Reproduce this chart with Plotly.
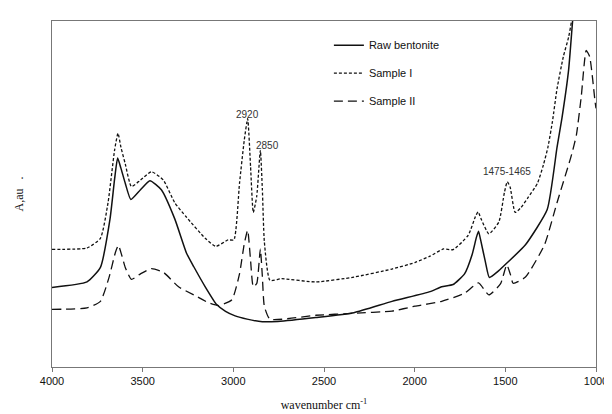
import plotly.graph_objects as go

# Raw bentonite
raw_wn = [4000, 3807, 3733, 3680, 3655, 3638, 3620, 3596, 3565, 3512, 3460, 3397, 3323, 3258, 3218, 3155,
          3092, 3043, 2990, 2924, 2840, 2755, 2545, 2335, 2125, 1915, 1851, 1788, 1725, 1683, 1660, 1648, 1635,
          1610, 1588, 1536, 1494, 1389, 1269, 1215, 1188, 1151, 1129, 1115]
raw_abs = [24.6, 26.3, 30.8, 45.8, 58.0, 64.6, 61.5, 56.8, 51.8, 54.8, 57.6, 54.8, 45.8, 35.2, 31.0, 24.8,
           19.3, 17.2, 15.8, 14.8, 14.0, 14.1, 15.3, 16.8, 20.3, 23.3, 24.8, 25.5, 28.8, 34.8, 40.0, 42.0, 39.0,
           32.5, 27.7, 29.8, 32.0, 37.8, 48.7, 67.9, 76.9, 91.9, 107.0, 115.0]

# Sample I
s1_wn = [4000, 3807, 3733, 3691, 3655, 3636, 3620, 3596, 3562, 3512, 3452, 3386, 3323, 3258, 3155, 3097,
         3029, 2997, 2966, 2940, 2921, 2905, 2890, 2871, 2851, 2840, 2829, 2798, 2734, 2545, 2335, 2125,
         1999, 1915, 1841, 1788, 1704, 1665, 1650, 1635, 1591, 1536, 1505, 1489, 1473, 1446, 1414, 1376,
         1323, 1290, 1265, 1240, 1215, 1180, 1151, 1135, 1120]
s1_abs = [36.4, 36.8, 39.8, 50.8, 67.0, 72.3, 68.0, 62.8, 55.8, 57.8, 60.4, 57.8, 50.8, 46.3, 39.8, 37.3,
          39.3, 39.3, 56.8, 70.0, 76.8, 62.0, 47.8, 52.8, 67.0, 55.0, 38.8, 26.8, 27.3, 26.3, 27.8, 30.3,
          32.3, 34.3, 36.5, 36.3, 40.8, 46.5, 48.0, 46.0, 41.2, 44.8, 54.0, 57.3, 55.5, 47.8, 49.3, 52.3,
          56.8, 62.5, 68.0, 76.0, 86.0, 96.0, 102.0, 107.0, 115.0]

# Sample II
s2_wn = [4000, 3807, 3733, 3685, 3650, 3634, 3615, 3596, 3562, 3512, 3452, 3386, 3302, 3218, 3134, 3081,
         3008, 2966, 2940, 2921, 2905, 2890, 2871, 2851, 2840, 2829, 2798, 2545, 2335, 2125, 1999, 1851,
         1725, 1648, 1591, 1526, 1492, 1473, 1457, 1389, 1284, 1215, 1134, 1108, 1081, 1054, 1035, 1005, 1000]
s2_abs = [17.8, 18.3, 20.3, 27.8, 35.5, 37.6, 34.5, 30.8, 27.1, 28.8, 30.4, 29.3, 24.8, 22.3, 19.8, 19.0,
          20.8, 28.8, 38.0, 42.3, 33.0, 24.8, 25.8, 36.5, 28.0, 18.8, 14.8, 16.0, 16.6, 17.3, 18.8, 20.3,
          22.8, 26.0, 22.3, 25.8, 31.6, 28.8, 25.9, 27.8, 37.8, 50.8, 65.8, 71.8, 83.8, 97.9, 96.0, 82.0, 80.0]

x_ticks = [4000, 3500, 3000, 2500, 2000, 1500, 1000]

peak_labels = ["2920", "2850", "1475-1465"]
peak_x = [2920, 2812, 1492]
peak_y = [78.0, 68.5, 60.5]

fig = go.Figure()
fig.add_trace(go.Scatter(x=raw_wn, y=raw_abs, mode="lines", name="Raw bentonite", legendgroup="a",
                         line=dict(color="#111111", width=1.5, shape="spline", smoothing=0.5)))
fig.add_trace(go.Scatter(x=s1_wn, y=s1_abs, mode="lines", name="Sample I", legendgroup="b",
                         line=dict(color="#111111", width=1.3, dash="3px,2px", shape="spline", smoothing=0.5)))
fig.add_trace(go.Scatter(x=s2_wn, y=s2_abs, mode="lines", name="Sample II", legendgroup="c",
                         line=dict(color="#111111", width=1.3, dash="9px,5px", shape="spline", smoothing=0.5)))

for t, xx, yy in zip(peak_labels, peak_x, peak_y):
    fig.add_annotation(x=xx, y=yy, text=t, showarrow=False,
                       font=dict(family="Liberation Sans, Arial", size=10, color="#333333"))

fig.update_layout(
    width=612, height=414,
    margin=dict(l=42, r=12, t=13, b=45),
    paper_bgcolor="white", plot_bgcolor="white",
    font=dict(family="Liberation Sans, Arial", size=11, color="#111111"),
    legend=dict(x=0.509, y=0.972, xanchor="left", yanchor="top", bgcolor="rgba(0,0,0,0)",
                font=dict(size=11, color="#111111"), tracegroupgap=9, itemwidth=30),
    xaxis=dict(range=[4000, 1000], tickvals=x_ticks, ticktext=[str(v) for v in x_ticks],
               showgrid=False, zeroline=False, showline=True, linecolor="#777777", linewidth=1,
               mirror=True, ticks="outside", ticklen=4, tickcolor="#777777",
               tickfont=dict(size=11, color="#111111"),
               title=dict(text="wavenumber cm<sup>-1</sup>", standoff=14,
                          font=dict(family="Liberation Serif, Times New Roman", size=12, color="#111111"))),
    yaxis=dict(range=[0, 107], showticklabels=False, ticks="", showgrid=False, zeroline=False,
               showline=True, linecolor="#777777", linewidth=1, mirror=True,
               title=dict(text="A,au   .", standoff=24,
                          font=dict(family="Liberation Serif, Times New Roman", size=12, color="#111111"))),
)

fig.write_html("out.html")
